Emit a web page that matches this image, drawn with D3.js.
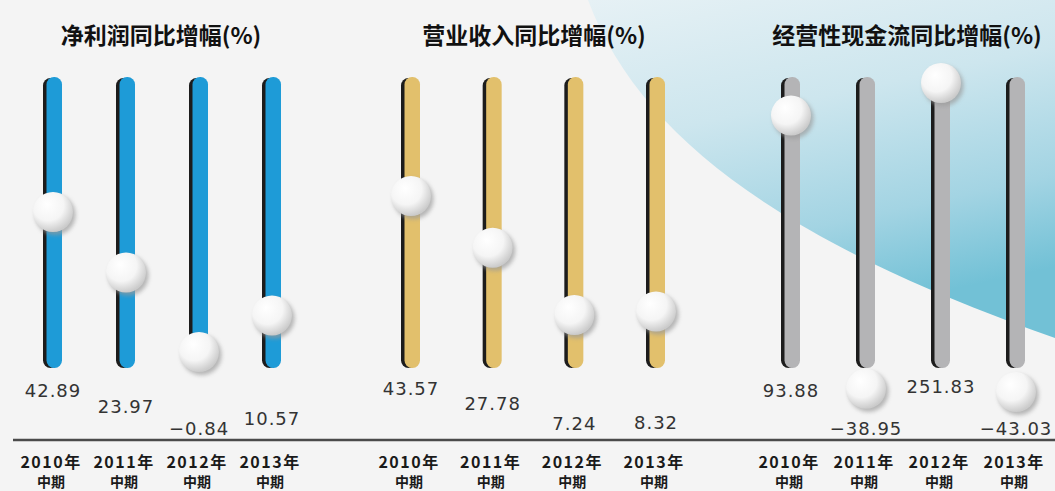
<!DOCTYPE html>
<html>
<head>
<meta charset="utf-8">
<script src="https://cdn.jsdelivr.net/npm/d3@7/dist/d3.min.js"></script>
<style>
    html, body { margin: 0; padding: 0; background: #f4f4f4; }
    svg { display: block; }
</style>
</head>
<body>
<svg id="chart" width="1055" height="491"></svg>
<script>

var periodYears = ['2010年', '2011年', '2012年', '2013年'];
var periodHalf = ['中期', '中期', '中期', '中期'];

var panelTitles = ['净利润同比增幅(%)', '营业收入同比增幅(%)', '经营性现金流同比增幅(%)'];

var netProfitGrowth = [42.89, 23.97, -0.84, 10.57];
var revenueGrowth = [43.57, 27.78, 7.24, 8.32];
var cashFlowGrowth = [93.88, -38.95, 251.83, -43.03];

var width = 1055, height = 491;
var barTop = 77, barBottom = 368, axisY = 440;

var svg = d3.select('#chart');
var defs = svg.append('defs');

// background: light grey with a big blue swoosh in the top right
var bgGrad = defs.append('linearGradient')
    .attr('id', 'bg-blue')
    .attr('x1', 0).attr('y1', 0).attr('x2', 0.3).attr('y2', 1);
bgGrad.append('stop').attr('offset', '0%').attr('stop-color', '#e6f1f5');
bgGrad.append('stop').attr('offset', '40%').attr('stop-color', '#cde6ee');
bgGrad.append('stop').attr('offset', '75%').attr('stop-color', '#a3d4e3');
bgGrad.append('stop').attr('offset', '100%').attr('stop-color', '#72c1d6');

var knobGrad = defs.append('radialGradient')
    .attr('id', 'knob')
    .attr('cx', '40%').attr('cy', '35%').attr('r', '65%')
    .attr('fx', '35%').attr('fy', '30%');
knobGrad.append('stop').attr('offset', '0%').attr('stop-color', '#ffffff');
knobGrad.append('stop').attr('offset', '60%').attr('stop-color', '#f5f5f5');
knobGrad.append('stop').attr('offset', '100%').attr('stop-color', '#cbcbcb');

var blur = defs.append('filter').attr('id', 'soft')
    .attr('x', '-50%').attr('y', '-50%').attr('width', '200%').attr('height', '200%');
blur.append('feGaussianBlur').attr('stdDeviation', 2);

svg.append('rect')
    .attr('width', width).attr('height', height)
    .attr('fill', '#f4f4f4');

svg.append('path')
    .attr('d', 'M588,0 C640,140 790,245 1055,338 L1055,0 Z')
    .attr('fill', 'url(#bg-blue)');

var panels = [
    { title: panelTitles[0], values: netProfitGrowth, color: '#1e9bd7', xRange: [53, 272], titleX: 161,
      knobRange: [352, 212], labelRange: [435, 397], scale: d3.scaleLinear },
    { title: panelTitles[1], values: revenueGrowth, color: '#e2c06c', xRange: [411, 656], titleX: 534,
      knobRange: [315, 196], labelRange: [430, 395], scale: d3.scaleLinear },
    { title: panelTitles[2], values: cashFlowGrowth, color: '#b4b4b6', xRange: [791, 1016], titleX: 907,
      knobRange: [392, 83], labelRange: [435, 393], scale: d3.scaleSymlog }
];

var fmt = d3.format('.2f');

// the baseline under all three panels
svg.append('line')
    .attr('x1', 13).attr('x2', width)
    .attr('y1', axisY).attr('y2', axisY)
    .attr('stroke', '#4a4a4a')
    .attr('stroke-width', 2.5);

panels.forEach(function (panel) {

    var g = svg.append('g');

    var x = d3.scalePoint()
        .domain(periodYears)
        .range(panel.xRange);

    var extent = d3.extent(panel.values);

    // knob position along the slider
    var y = panel.scale()
        .domain(extent)
        .range(panel.knobRange);

    // value labels are staggered the same way, under the sliders
    var labelY = panel.scale()
        .domain(extent)
        .range(panel.labelRange);

    g.append('text')
        .attr('x', panel.titleX)
        .attr('y', 44)
        .attr('text-anchor', 'middle')
        .attr('font-family', '"Noto Sans CJK SC", sans-serif')
        .attr('font-weight', 'bold')
        .attr('font-size', 23)
        .attr('fill', '#111')
        .text(panel.title);

    var items = g.selectAll('g.item')
        .data(panel.values)
        .enter().append('g')
        .attr('class', 'item')
        .attr('transform', function (d, i) { return 'translate(' + x(periodYears[i]) + ',0)'; });

    // slider track: dark edge on the left, coloured body
    items.append('rect')
        .attr('x', -10).attr('y', barTop + 1)
        .attr('width', 15).attr('height', barBottom - barTop - 1)
        .attr('rx', 7.5)
        .attr('fill', '#1c1c1c');

    items.append('rect')
        .attr('x', -6.5).attr('y', barTop)
        .attr('width', 15.5).attr('height', barBottom - barTop)
        .attr('rx', 7.5)
        .attr('fill', panel.color);

    // knob shadow and knob
    items.append('circle')
        .attr('cx', 2.5)
        .attr('cy', function (d) { return y(d) + 3; })
        .attr('r', 20)
        .attr('fill', '#9a9a9a')
        .attr('opacity', 0.7)
        .attr('filter', 'url(#soft)');

    items.append('circle')
        .attr('cx', 0)
        .attr('cy', function (d) { return y(d); })
        .attr('r', 20)
        .attr('fill', 'url(#knob)');

    items.append('text')
        .attr('x', 0)
        .attr('y', function (d) { return labelY(d); })
        .attr('text-anchor', 'middle')
        .attr('font-family', '"DejaVu Sans", sans-serif')
        .attr('font-size', 18)
        .attr('letter-spacing', 1)
        .attr('fill', '#333')
        .text(function (d) { return fmt(d); });

    items.append('text')
        .attr('x', -2)
        .attr('y', 468)
        .attr('text-anchor', 'middle')
        .attr('font-family', '"Noto Sans CJK SC", sans-serif')
        .attr('font-weight', 'bold')
        .attr('font-size', 16)
        .attr('letter-spacing', 1.5)
        .attr('fill', '#1a1a1a')
        .text(function (d, i) { return periodYears[i]; });

    items.append('text')
        .attr('x', -2)
        .attr('y', 487)
        .attr('text-anchor', 'middle')
        .attr('font-family', '"Noto Sans CJK SC", sans-serif')
        .attr('font-weight', 'bold')
        .attr('font-size', 14)
        .attr('fill', '#1a1a1a')
        .text(function (d, i) { return periodHalf[i]; });
});

</script>
</body>
</html>
